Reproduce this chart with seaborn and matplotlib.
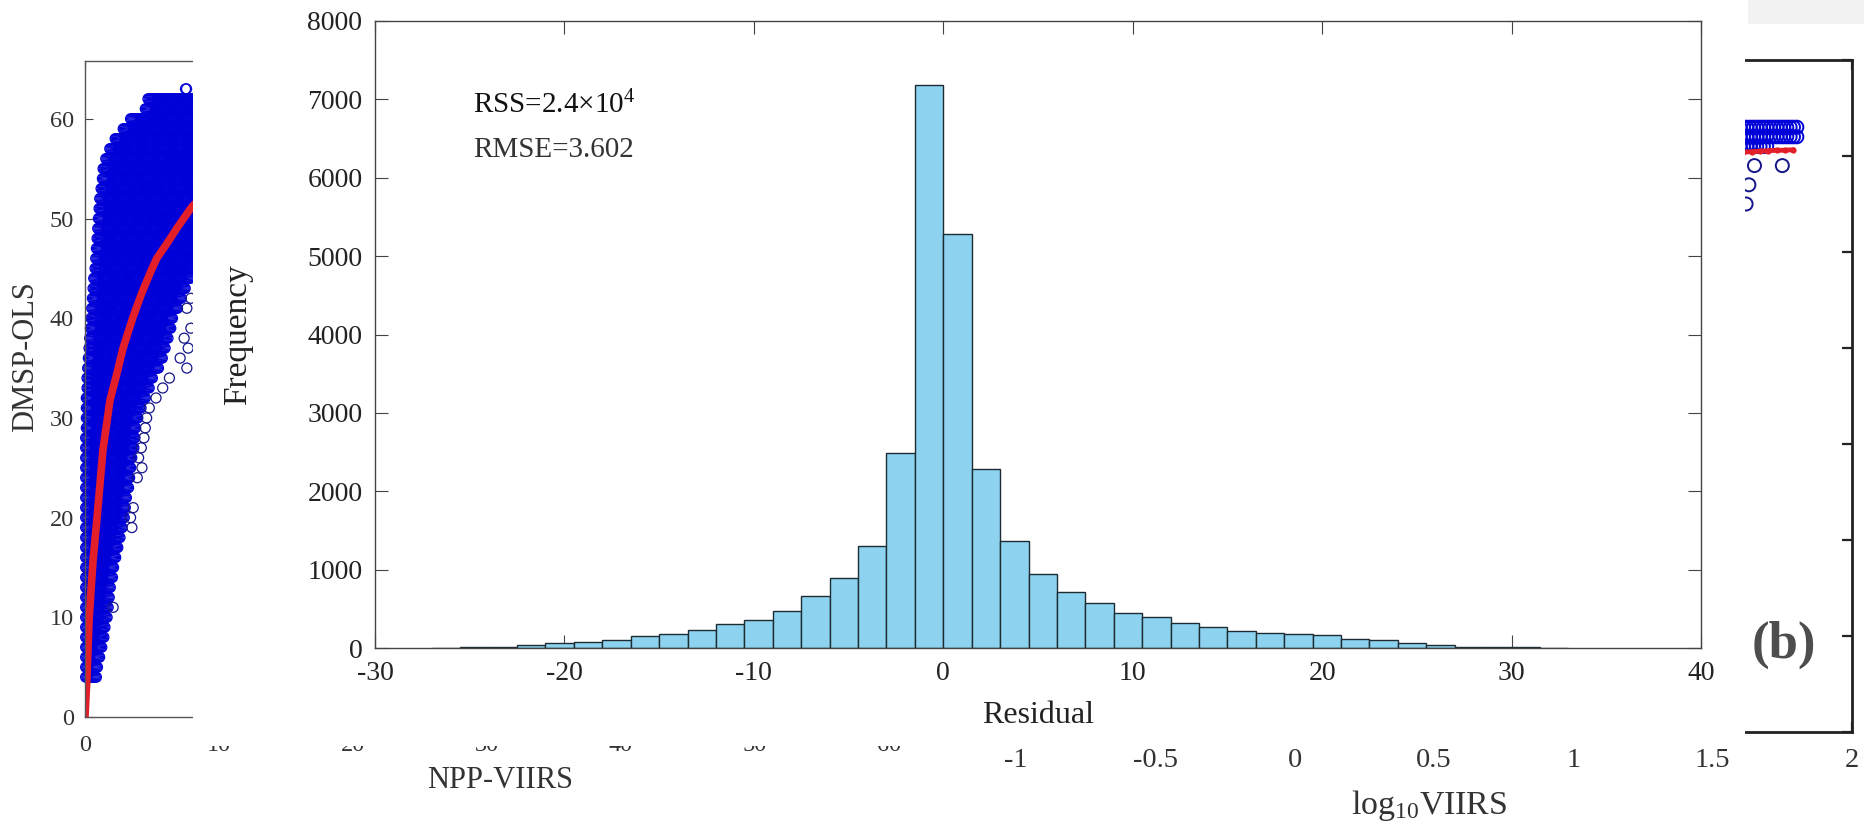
import numpy as np
import pandas as pd
import matplotlib
matplotlib.use("Agg")
import matplotlib.pyplot as plt
from matplotlib.patches import Rectangle
import seaborn as sns

# ---------------- data ----------------
# residual histogram: counts per 1.5-wide bin, first bin starts at -27
bin_start = -27.0
bin_width = 1.5
residual_counts = [3, 9, 17, 38, 70, 72, 105, 157, 185, 225, 306, 357, 476, 663,
                   889, 1297, 2484, 7183, 5282, 2286, 1365, 940, 719, 578, 442,
                   396, 323, 272, 221, 189, 179, 162, 119, 98, 64, 34, 17, 14, 10, 3]
hist_xticks = [-30, -20, -10, 0, 10, 20, 30, 40]
hist_yticks = [0, 1000, 2000, 3000, 4000, 5000, 6000, 7000, 8000]
rss_text = "RSS=2.4×10$^{4}$"
rmse_text = "RMSE=3.602"

# panel (a): DMSP-OLS levels and the NPP-VIIRS span covered at each level
ols_levels = list(range(4, 64))
viirs_lo = [0.05] * 25 + [0.1, 0.1, 0.1, 0.1, 0.15, 0.15, 0.2, 0.25, 0.3, 0.35,
                          0.4, 0.45, 0.5, 0.55, 0.6, 0.65, 0.75, 0.8, 0.85, 0.9,
                          0.95, 1.0, 1.05, 1.1, 1.2, 1.3, 1.35, 1.55, 1.85, 2.25,
                          2.85, 3.4, 4.5, 4.7, 7.5]
viirs_hi = [0.85, 1.0, 1.15, 1.3, 1.45, 1.55, 1.65, 1.75, 1.85, 1.95, 2.05, 2.2,
            2.35, 2.5, 2.65, 2.8, 2.95, 3.05, 3.15, 3.25, 3.35, 3.45, 3.55, 3.65,
            3.75, 3.85, 4.0, 4.2, 4.5, 4.8, 5.1, 5.5, 5.8, 6.0, 6.2, 6.4, 6.6,
            6.9, 7.2, 7.5, 7.9] + [8.6] * 18 + [7.6]
a_out_x = [2.1, 3.5, 3.4, 3.6, 3.9, 4.25, 4.0, 4.2, 4.4, 4.5, 4.6, 4.8, 5.3,
           5.8, 6.3, 7.6, 7.1, 7.7, 7.4, 7.9, 7.6, 7.9]
a_out_y = [11, 19, 20, 21, 24, 25, 26, 27, 28, 29, 30, 31, 32, 33, 34, 35, 36,
           37, 38, 39, 41, 42]
a_fit_x = [0, 0.07, 0.15, 0.3, 0.6, 0.9, 1.34, 1.87, 2.39, 2.84, 3.58, 4.23,
           4.85, 5.35, 6.12, 6.84, 7.99, 9.0]
a_fit_y = [0, 2.0, 4.0, 9.7, 15.7, 20.0, 26.8, 31.8, 34.5, 37.0, 40.1, 42.5,
           44.5, 46.0, 47.5, 49.0, 51.2, 52.5]
a_xticks = [0, 10, 20, 30, 40, 50, 60]
a_yticks = [0, 10, 20, 30, 40, 50, 60]

# panel (b): log10 VIIRS vs DMSP-OLS
b_levels = [63, 62, 61]
b_lo = [1.55, 1.55, 1.55]
b_hi = [1.81, 1.81, 1.70]
b_out_x = [1.65, 1.75, 1.63, 1.62]
b_out_y = [59, 59, 57, 55]
b_fit_x = [1.55, 1.58, 1.61, 1.64, 1.67, 1.70, 1.73, 1.76, 1.79]
b_fit_y = [60.3, 60.35, 60.4, 60.45, 60.5, 60.55, 60.6, 60.6, 60.65]
b_xticks = [-1, -0.5, 0, 0.5, 1, 1.5, 2]
b_xticklabels = ["-1", "-0.5", "0", "0.5", "1", "1.5", "2"]
b_yticks = [0, 10, 20, 30, 40, 50, 60, 70]

# ---------------- style ----------------
sns.set_style("ticks")
plt.rcParams["font.family"] = ["Liberation Serif", "DejaVu Serif"]
plt.rcParams["mathtext.fontset"] = "custom"
plt.rcParams["mathtext.rm"] = "Liberation Serif"
plt.rcParams["mathtext.it"] = "Liberation Serif:italic"
plt.rcParams["axes.unicode_minus"] = False

W, H = 1865, 824
fig = plt.figure(figsize=(W / 100, H / 100), dpi=100)
fig.patch.set_facecolor("white")


def frac(left, top, right, bottom):
    return [left / W, 1 - bottom / H, (right - left) / W, (bottom - top) / H]


# ---------------- panel (a) ----------------
ax_a = fig.add_axes(frac(85, 61, 889, 717))
ax_a.set_zorder(0)
for lvl, lo, hi in zip(ols_levels, viirs_lo, viirs_hi):
    xs = np.arange(lo, hi + 1e-9, 0.08)
    ax_a.scatter(xs, np.full(xs.size, lvl), s=52, facecolors="none",
                 edgecolors="#0000d8", linewidths=0.9, clip_on=False)
ax_a.scatter(a_out_x, a_out_y, s=52, facecolors="none", edgecolors="#15158a",
             linewidths=0.9)
sns.lineplot(x=a_fit_x, y=a_fit_y, ax=ax_a, color="#e3202a", lw=5.5,
             solid_capstyle="round", solid_joinstyle="round", sort=False)
ax_a.set_xlim(0, 60)
ax_a.set_ylim(0, 65.8)
ax_a.set_xticks(a_xticks)
ax_a.set_yticks(a_yticks)
ax_a.tick_params(direction="in", length=6, width=0.8, color="#444",
                 labelsize=17.5, labelcolor="#333", pad=8, top=True, right=True)
ax_a.tick_params(axis="x", pad=13)
for sp in ax_a.spines.values():
    sp.set_color("#555")
    sp.set_linewidth(1.0)
ax_a.set_xlabel("NPP-VIIRS", fontsize=22, color="#333")
ax_a.xaxis.set_label_coords(0.516, -0.0747)
ax_a.set_ylabel("DMSP-OLS", fontsize=22, color="#333")
ax_a.yaxis.set_label_coords(-0.056, 0.549)

# ---------------- panel (b) ----------------
ax_b = fig.add_axes(frac(1016, 60, 1852, 732))
ax_b.set_zorder(0)
for lvl, lo, hi in zip(b_levels, b_lo, b_hi):
    xs = np.arange(lo, hi + 1e-9, 0.012)
    ax_b.scatter(xs, np.full(xs.size, lvl), s=88, facecolors="none",
                 edgecolors="#0000d8", linewidths=1.4)
ax_b.scatter(b_out_x, b_out_y, s=88, facecolors="none", edgecolors="#15158a",
             linewidths=1.4)
ax_b.plot(b_fit_x, b_fit_y, color="#e3202a", lw=3.5, marker="o", ms=4.5,
          markeredgewidth=0)
ax_b.set_xlim(-1, 2)
ax_b.set_ylim(0, 70)
ax_b.set_xticks(b_xticks)
ax_b.set_xticklabels(b_xticklabels)
ax_b.set_yticks(b_yticks)
ax_b.set_yticklabels([])
ax_b.tick_params(direction="in", length=7, width=1.6, color="#222",
                 labelsize=20.5, labelcolor="#333", pad=11.5, top=True, right=True)
for sp in ax_b.spines.values():
    sp.set_color("#222")
    sp.set_linewidth(2.0)
ax_b.set_xlabel("log$_{10}$VIIRS", fontsize=24.5, color="#333")
ax_b.xaxis.set_label_coords(0.494, -0.084)
fig.text(1784 / W, 1 - 645 / H, "(b)", fontsize=38, fontweight="bold",
         color="#4d4d4d", ha="center", va="center")

# light strip at the top right and the white sheet holding the histogram
fig.add_artist(Rectangle((1748 / W, 1 - 24 / H), (W - 1748) / W, 24 / H,
                         transform=fig.transFigure, facecolor="#f2f2f2",
                         edgecolor="none", zorder=0.5))
fig.add_artist(Rectangle((193 / W, 1 - 746 / H), (1745 - 193) / W, 746 / H,
                         transform=fig.transFigure, facecolor="white",
                         edgecolor="none", zorder=1))

# ---------------- residual histogram ----------------
ax_h = fig.add_axes(frac(375, 21, 1701, 648))
ax_h.set_zorder(2)
edges = (bin_start + bin_width * np.arange(len(residual_counts) + 1)).tolist()
hist_df = pd.DataFrame({
    "residual": [(lo + hi) / 2 for lo, hi in zip(edges[:-1], edges[1:])],
    "count": residual_counts,
})
sns.histplot(data=hist_df, x="residual", weights="count", bins=edges, ax=ax_h,
             color="#8dd3f0", edgecolor="#1d2b33", linewidth=1.0, alpha=1.0)
ax_h.set_xlim(-30, 40)
ax_h.set_ylim(0, 8000)
ax_h.set_xticks(hist_xticks)
ax_h.set_yticks(hist_yticks)
ax_h.tick_params(direction="in", length=9.5, width=0.8, color="#444",
                 labelsize=20, labelcolor="#222", pad=9, top=True, right=True)
for sp in ax_h.spines.values():
    sp.set_color("#444")
    sp.set_linewidth(1.0)
ax_h.set_xlabel("Residual", fontsize=23, color="#222")
ax_h.xaxis.set_label_coords(0.5, -0.085)
ax_h.set_ylabel("Frequency", fontsize=24, color="#222")
ax_h.yaxis.set_label_coords(-0.092, 0.5)
ax_h.text(-24.83, 6826, rss_text, fontsize=21, color="#111", va="baseline")
ax_h.text(-24.83, 6265, rmse_text, fontsize=21, color="#333", va="baseline")

fig.savefig("out.png", dpi=100, facecolor="white")
